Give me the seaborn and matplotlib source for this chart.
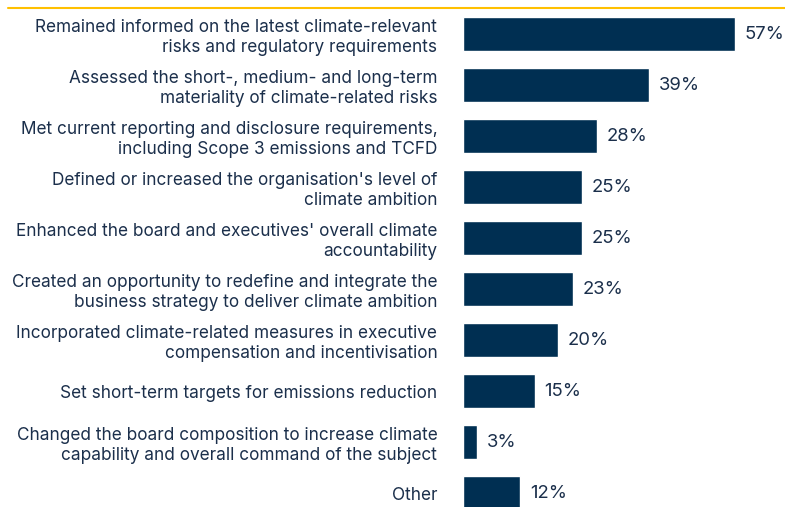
import matplotlib.pyplot as plt
import seaborn as sns
import pandas as pd

# Survey responses (share of respondents)
labels = [
    "Remained informed on the latest climate-relevant\nrisks and regulatory requirements",
    "Assessed the short-, medium- and long-term\nmateriality of climate-related risks",
    "Met current reporting and disclosure requirements,\nincluding Scope 3 emissions and TCFD",
    "Defined or increased the organisation's level of\nclimate ambition",
    "Enhanced the board and executives' overall climate\naccountability",
    "Created an opportunity to redefine and integrate the\nbusiness strategy to deliver climate ambition",
    "Incorporated climate-related measures in executive\ncompensation and incentivisation",
    "Set short-term targets for emissions reduction",
    "Changed the board composition to increase climate\ncapability and overall command of the subject",
    "Other",
]
values = [57, 39, 28, 25, 25, 23, 20, 15, 3, 12]

BAR_COLOR = "#002f52"
TEXT_COLOR = "#1b2f4b"
LINE_COLOR = "#ffc000"

df = pd.DataFrame({"label": labels, "value": values})

sns.set_style("white")
plt.rcParams["font.family"] = ["Inter", "DejaVu Sans"]

fig = plt.figure(figsize=(7.85, 5.07), dpi=100)
ax = fig.add_axes([463 / 785, 0.0, 1 - 463 / 785, 1 - 8.5 / 507])

sns.barplot(data=df, y="label", x="value", color=BAR_COLOR, saturation=1,
            width=0.67, orient="h", ax=ax)

ax.set_xlim(0, 322 / 4.77)
ax.set_ylim(9.27, -0.5)
ax.set_xlabel("")
ax.set_ylabel("")
ax.set_xticks([])
sns.despine(ax=ax, left=True, bottom=True, top=True, right=True)
ax.tick_params(axis="y", length=0, pad=18.5, labelsize=12.4, labelcolor=TEXT_COLOR)
for t in ax.get_yticklabels():
    t.set_multialignment("right")

ax.bar_label(ax.containers[0], labels=[f"{v}%" for v in values], padding=7,
             fontsize=13.3, color=TEXT_COLOR)

# yellow rule across the top
fig.add_artist(plt.Line2D([8 / 785, 1], [1 - 7.5 / 507, 1 - 7.5 / 507],
                          color=LINE_COLOR, linewidth=1.5))

fig.savefig("out.png", dpi=100)
